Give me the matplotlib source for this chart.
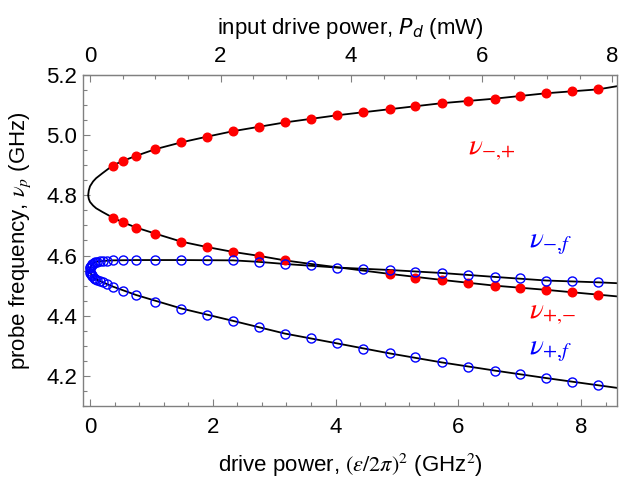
import matplotlib
matplotlib.use("Agg")
import matplotlib.pyplot as plt
from matplotlib.ticker import MultipleLocator

plt.rcParams['font.family'] = ['Liberation Sans', 'DejaVu Sans']
plt.rcParams['mathtext.fontset'] = 'stix'

# ---- measured data (drive power (eps/2pi)^2 in GHz^2, probe frequency in GHz) ----
red_x_upper = [0.37, 0.53, 0.75, 1.06, 1.49, 1.91, 2.33, 2.75, 3.17, 3.60, 4.03,
               4.45, 4.88, 5.30, 5.73, 6.16, 6.59, 7.00, 7.43, 7.85, 8.28]
red_y_upper = [4.899, 4.914, 4.931, 4.953, 4.976, 4.995, 5.013, 5.028, 5.042, 5.053, 5.066,
               5.076, 5.086, 5.095, 5.106, 5.114, 5.121, 5.130, 5.139, 5.146, 5.152]
red_x_lower = [0.37, 0.53, 0.75, 1.06, 1.49, 1.91, 2.33, 2.75, 3.17,
               4.88, 5.30, 5.73, 6.16, 6.59, 7.00, 7.43, 7.85, 8.28]
red_y_lower = [4.726, 4.711, 4.693, 4.673, 4.646, 4.628, 4.612, 4.599, 4.584,
               4.539, 4.527, 4.519, 4.509, 4.500, 4.493, 4.487, 4.478, 4.470]

blue_x = [0.003, 0.008, 0.015, 0.025, 0.04, 0.06, 0.085, 0.12, 0.16, 0.21, 0.27, 0.37,
          0.53, 0.75, 1.06, 1.49, 1.91, 2.33, 2.75, 3.17, 3.60, 4.03, 4.45, 4.88,
          5.30, 5.73, 6.16, 6.59, 7.00, 7.43, 7.85, 8.28]
blue_y_upper = [4.557, 4.561, 4.565, 4.569, 4.573, 4.576, 4.578, 4.580, 4.581, 4.582, 4.583, 4.584,
                4.585, 4.585, 4.585, 4.585, 4.585, 4.584, 4.579, 4.572, 4.567, 4.560, 4.556, 4.552,
                4.546, 4.542, 4.536, 4.529, 4.524, 4.517, 4.514, 4.511]
blue_y_lower = [4.547, 4.543, 4.539, 4.535, 4.531, 4.527, 4.523, 4.519, 4.515, 4.511, 4.505, 4.497,
                4.483, 4.469, 4.447, 4.424, 4.403, 4.383, 4.363, 4.341, 4.325, 4.308, 4.290, 4.275,
                4.264, 4.245, 4.231, 4.218, 4.206, 4.193, 4.180, 4.169]

# ---- theory curves (black) ----
th_red_x = [8.60, 8.28, 7.43, 6.59, 5.73, 4.88, 4.03, 3.17, 2.33, 1.91, 1.49, 1.06, 0.75,
            0.53, 0.37, 0.20, 0.10, 0.05, 0.0, -0.02, -0.03,
            -0.02, 0.0, 0.05, 0.10, 0.20, 0.37, 0.53, 0.75, 1.06, 1.49, 1.91, 2.33, 2.75,
            3.17, 3.60, 4.03, 4.45, 4.88, 5.73, 6.59, 7.43, 8.28, 8.60]
th_red_y = [5.163, 5.152, 5.139, 5.121, 5.106, 5.086, 5.066, 5.042, 5.013, 4.995, 4.976, 4.953, 4.931,
            4.914, 4.899, 4.873, 4.857, 4.846, 4.830, 4.816, 4.800,
            4.788, 4.778, 4.766, 4.757, 4.745, 4.726, 4.711, 4.693, 4.673, 4.646, 4.628, 4.612, 4.599,
            4.584, 4.572, 4.561, 4.550, 4.539, 4.519, 4.500, 4.486, 4.470, 4.464]
th_blue_x = [8.60, 8.28, 7.43, 6.59, 5.73, 4.88, 4.03, 3.17, 2.75, 2.33, 1.49, 0.75, 0.37,
             0.21, 0.12, 0.06, 0.025, 0.008, -0.003,
             0.008, 0.025, 0.06, 0.12, 0.21, 0.37, 0.75, 1.49, 2.33, 3.17, 4.03, 4.88,
             5.73, 6.59, 7.43, 8.28, 8.60]
th_blue_y = [4.508, 4.511, 4.517, 4.529, 4.542, 4.552, 4.560, 4.572, 4.579, 4.584, 4.585, 4.585, 4.584,
             4.582, 4.580, 4.576, 4.569, 4.561, 4.552,
             4.543, 4.535, 4.527, 4.519, 4.511, 4.497, 4.469, 4.424, 4.383, 4.341, 4.308, 4.275,
             4.245, 4.218, 4.193, 4.169, 4.160]

x_ticks = [0, 2, 4, 6, 8]
y_ticks = [4.2, 4.4, 4.6, 4.8, 5.0, 5.2]
top_ticks = [0, 2, 4, 6, 8]
mw_per_ghz2 = 0.9407

fig = plt.figure(figsize=(6.19, 4.8), dpi=100)
ax = fig.add_axes([0.134, 0.154, 0.863, 0.690])

ax.plot(th_red_x, th_red_y, color='black', lw=1.3, zorder=2)
ax.plot(th_blue_x, th_blue_y, color='black', lw=1.3, zorder=2)
ax.plot(red_x_upper, red_y_upper, 'o', color='#ff0000', ms=6.2, mec='#ff0000', zorder=3)
ax.plot(red_x_lower, red_y_lower, 'o', color='#ff0000', ms=6.2, mec='#ff0000', zorder=3)
ax.plot(blue_x, blue_y_upper, 'o', mfc='none', mec='#0000ff', ms=6.5, mew=1.0, zorder=4)
ax.plot(blue_x, blue_y_lower, 'o', mfc='none', mec='#0000ff', ms=6.5, mew=1.0, zorder=4)

ax.set_xlim(-0.115, 8.585)
ax.set_ylim(4.1, 5.2)

gray = '#808080'
for s in ax.spines.values():
    s.set_color(gray)
    s.set_linewidth(1.0)

fs_tick = 16
fs_lab = 16
ax.set_xticks(x_ticks)
ax.set_xticklabels([str(t) for t in x_ticks])
ax.set_yticks(y_ticks)
ax.set_yticklabels([f"{t:.1f}" for t in y_ticks])
ax.xaxis.set_minor_locator(MultipleLocator(0.4))
ax.yaxis.set_minor_locator(MultipleLocator(0.05))
ax.tick_params(which='both', direction='in', color=gray, labelsize=fs_tick, top=False, right=False)
ax.tick_params(which='major', length=5, width=0.8)
ax.tick_params(which='minor', length=3, width=0.8)
ax.tick_params(axis='x', which='major', pad=8)
ax.tick_params(axis='y', which='major', pad=4)

sec = ax.secondary_xaxis('top', functions=(lambda x: x * mw_per_ghz2, lambda p: p / mw_per_ghz2))
sec.set_xticks(top_ticks)
sec.set_xticklabels([str(t) for t in top_ticks])
sec.xaxis.set_minor_locator(MultipleLocator(0.5))
sec.tick_params(which='both', direction='in', color=gray, labelsize=fs_tick)
sec.tick_params(which='major', length=5, width=0.8, pad=6)
sec.tick_params(which='minor', length=3, width=0.8)
sec.spines['top'].set_color(gray)

ax.set_xlabel(r"drive power, $(\epsilon/2\pi)^2$ (GHz$^2$)", fontsize=fs_lab, va='center')
ax.xaxis.set_label_coords(0.5, -0.178)
ax.set_ylabel(r"probe frequency, $\nu_p$ (GHz)", fontsize=fs_lab, va='center')
ax.yaxis.set_label_coords(-0.118, 0.5)
sec.set_xlabel(r"input drive power, $P_d$ (mW)", fontsize=fs_lab,
               math_fontfamily='dejavusans', labelpad=8)

lab_kw = dict(fontsize=21, ha='left', va='center', transform=ax.transData)
ax.text(6.16, 4.955, r"$\nu_{-{,}{+}}$", color='#ff0000', **lab_kw)
ax.text(7.15, 4.64, r"$\nu_{-{,}f}$", color='#0000ff', **lab_kw)
ax.text(7.15, 4.41, r"$\nu_{+{,}{-}}$", color='#ff0000', **lab_kw)
ax.text(7.15, 4.285, r"$\nu_{+{,}f}$", color='#0000ff', **lab_kw)

fig.savefig("out.png", dpi=100)
